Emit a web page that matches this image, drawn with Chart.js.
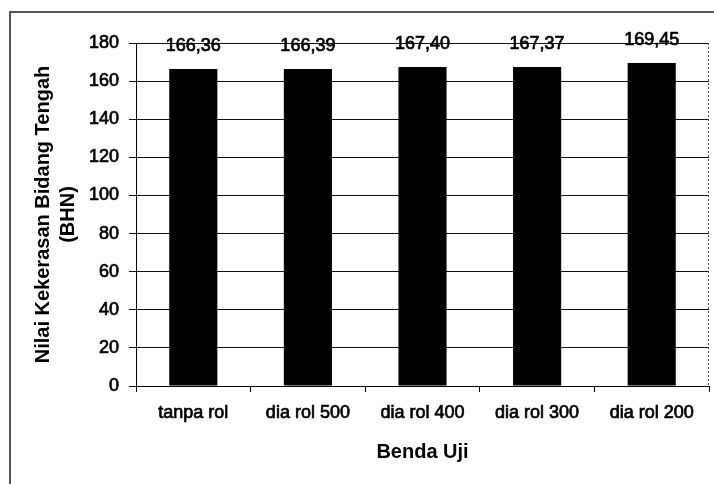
<!DOCTYPE html>
<html>
<head>
<meta charset="utf-8">
<script src="https://cdn.jsdelivr.net/npm/chart.js@4/dist/chart.umd.min.js"></script>
<style>
  html, body { margin: 0; padding: 0; background: #fff; }
  #wrap { width: 714px; height: 484px; }
</style>
</head>
<body>
<div id="wrap"><canvas id="c" width="714" height="484"></canvas></div>
<script>
// Brinell hardness of the middle section per test specimen
const categories = ['tanpa rol', 'dia rol 500', 'dia rol 400', 'dia rol 300', 'dia rol 200'];
const hardness = [166.36, 166.39, 167.40, 167.37, 169.45];
const yTicks = { min: 0, max: 180, step: 20 };
const yTitle = ['Nilai Kekerasan Bidang Tengah', '(BHN)'];
const xTitle = 'Benda Uji';

const FONT = '"Liberation Sans", Arial, Helvetica, sans-serif';

function fmt(v) {
  return v.toFixed(2).replace('.', ',');
}

// Frame around the figure, dotted right edge of the plot, value labels
const decor = {
  id: 'decor',
  beforeDraw(chart) {
    const ctx = chart.ctx;
    ctx.save();
    ctx.fillStyle = '#fff';
    ctx.fillRect(0, 0, chart.width, chart.height);
    ctx.strokeStyle = '#555';
    ctx.lineWidth = 2;
    ctx.beginPath();
    ctx.moveTo(10, 484);
    ctx.lineTo(10, 12);
    ctx.lineTo(714, 12);
    ctx.stroke();
    ctx.restore();
  },
  afterDraw(chart) {
    const ctx = chart.ctx;
    const a = chart.chartArea;
    ctx.save();
    ctx.strokeStyle = '#444';
    ctx.lineWidth = 1;
    ctx.setLineDash([2, 2]);
    ctx.beginPath();
    ctx.moveTo(a.right - 0.5, a.top);
    ctx.lineTo(a.right - 0.5, a.bottom);
    ctx.stroke();
    ctx.setLineDash([]);

    const meta = chart.getDatasetMeta(0);
    ctx.font = '18px ' + FONT;
    ctx.fillStyle = '#000';
    ctx.strokeStyle = '#000';
    ctx.lineWidth = 0.7;
    ctx.textAlign = 'center';
    ctx.textBaseline = 'middle';
    meta.data.forEach((bar, i) => {
      const t = fmt(hardness[i]);
      ctx.fillText(t, bar.x, bar.y - 23);
      ctx.strokeText(t, bar.x, bar.y - 23);
    });
    ctx.restore();
  }
};

new Chart(document.getElementById('c'), {
  type: 'bar',
  data: {
    labels: categories,
    datasets: [{
      data: hardness,
      backgroundColor: '#000',
      borderWidth: 0,
      barPercentage: 0.42,
      categoryPercentage: 1
    }]
  },
  options: {
    responsive: false,
    animation: false,
    devicePixelRatio: 1,
    layout: { padding: { left: 0, right: 5, top: 43, bottom: 0 } },
    plugins: {
      legend: { display: false },
      tooltip: { enabled: false }
    },
    scales: {
      x: {
        afterFit(s) { s.height = 98; },
        grid: {
          drawOnChartArea: false,
          drawTicks: true,
          tickLength: 6,
          color: '#000',
          offset: true
        },
        border: { display: true, color: '#000', width: 1 },
        ticks: {
          color: '#000',
          padding: 10,
          maxRotation: 0,
          textStrokeColor: '#000',
          textStrokeWidth: 0.7,
          font: { family: FONT, size: 18 }
        },
        title: {
          display: true,
          text: xTitle,
          color: '#000',
          font: { family: FONT, size: 20, weight: 'bold', lineHeight: 1.2 },
          padding: { top: 0, bottom: 20 }
        }
      },
      y: {
        min: yTicks.min,
        max: yTicks.max,
        afterFit(s) { s.width = 136; },
        grid: {
          color: '#111',
          lineWidth: 1,
          drawTicks: true,
          tickLength: 7
        },
        border: { display: true, color: '#000', width: 1 },
        ticks: {
          stepSize: yTicks.step,
          color: '#000',
          padding: 10,
          textStrokeColor: '#000',
          textStrokeWidth: 0.7,
          font: { family: FONT, size: 18 }
        },
        title: {
          display: true,
          text: yTitle,
          color: '#000',
          font: { family: FONT, size: 20, weight: 'bold', lineHeight: 1.25 },
          padding: { top: 31, bottom: 0 }
        }
      }
    }
  },
  plugins: [decor]
});
</script>
</body>
</html>
